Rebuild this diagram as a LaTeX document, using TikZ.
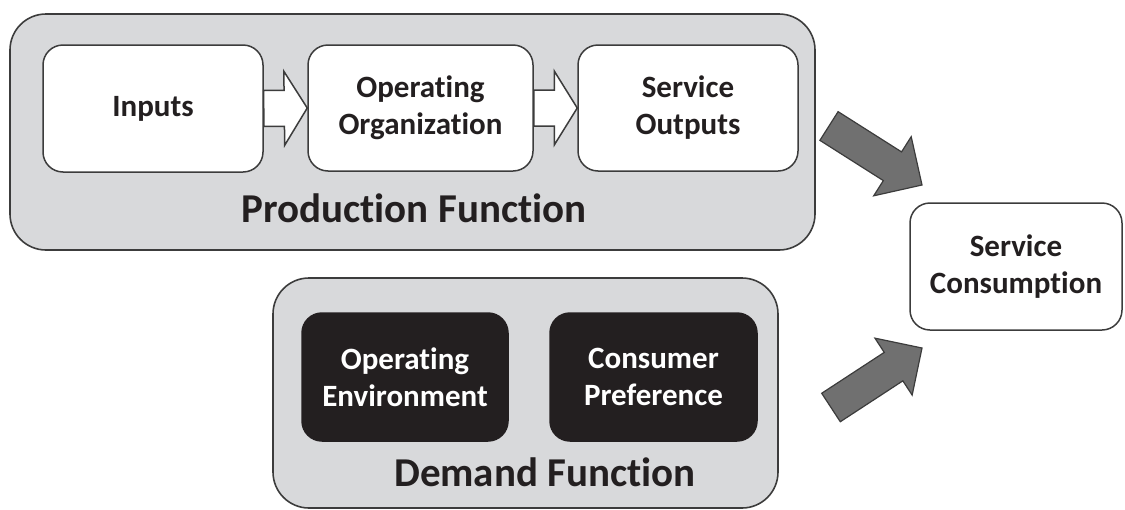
\documentclass[tikz,border=0pt]{standalone}
\usepackage{fontspec}
\setmainfont{Carlito}[RawFeature=-liga]
\usetikzlibrary{calc}

\definecolor{panelfill}{RGB}{216,217,219}
\definecolor{edge}{RGB}{60,60,60}
\definecolor{ink}{RGB}{35,31,32}
\definecolor{arrowgray}{RGB}{112,112,112}

% block arrow: style, tail, tip, half shaft width, half head width, head length
\newcommand\blockarrow[6]{%
  \coordinate (hb) at ($(#3)!#6!(#2)$);
  \draw[#1] ($(#2)!#4!90:(#3)$) -- ($(hb)!#4!90:(#3)$) -- ($(hb)!#5!90:(#3)$)
    -- (#3) -- ($(hb)!#5!-90:(#3)$) -- ($(hb)!#4!-90:(#3)$) -- ($(#2)!#4!-90:(#3)$) -- cycle;
}

\tikzset{
  panel/.style={draw=edge, fill=panelfill, line width=0.8pt, rounded corners=18pt,
    inner sep=0pt},
  whitebox/.style={draw=edge, fill=white, line width=0.75pt, rounded corners=10pt,
    align=center, inner sep=0pt, text=ink,
    font=\fontsize{15.5}{18.5}\selectfont\bfseries},
  darkbox/.style={whitebox, fill=ink, draw=ink, text=white},
  paneltitle/.style={anchor=base, text=ink, inner sep=0pt,
    font=\fontsize{20.5}{24}\selectfont\bfseries},
  hollow/.style={draw=edge, fill=white, line width=0.75pt, line join=miter},
  heavy/.style={draw=edge, fill=arrowgray, line width=0.6pt, line join=miter},
}

\begin{document}
\begin{tikzpicture}[x=0.5pt, y=-0.5pt]
  \useasboundingbox (0,0) rectangle (1125,509);

  % production side
  \node[panel, minimum width=402.5pt, minimum height=118pt] (prod) at (412.5,132) {};
  \node[paneltitle] (prodtitle) at (414,222) {Production Function};

  \node[whitebox, minimum width=110pt, minimum height=63.5pt] (inputs) at (153,108.5) {Inputs};
  \node[whitebox, minimum width=112.5pt, minimum height=63pt] (org) at (420.5,108) {Operating\\Organization};
  \node[whitebox, minimum width=110pt, minimum height=63pt] (outputs) at (688,108) {Service\\Outputs};

  \blockarrow{hollow}{inputs.east}{org.west}{9pt}{18.5pt}{11.5pt}
  \blockarrow{hollow}{org.east}{outputs.west}{9pt}{18.5pt}{11.5pt}

  % demand side
  \node[panel, minimum width=252.5pt, minimum height=115pt] (demand) at (525.5,393) {};
  \node[paneltitle] (demandtitle) at (545,486) {Demand Function};

  \node[darkbox, minimum width=103pt, minimum height=64pt] (env) at (405,377) {Operating\\Environment};
  \node[darkbox, minimum width=103.5pt, minimum height=64pt] (pref) at (653.5,377) {Consumer\\Preference};

  % consumption
  \node[whitebox, minimum width=106pt, minimum height=63.5pt] (cons) at (1016,266.5) {Service\\Consumption};

  \coordinate (ptail) at (829,126);
  \coordinate (ptip) at (922,185);
  \coordinate (dtail) at (831,407.5);
  \coordinate (dtip) at (922,348);
  \blockarrow{heavy}{ptail}{ptip}{8.5pt}{17.5pt}{17.5pt}
  \blockarrow{heavy}{dtail}{dtip}{8.5pt}{17pt}{17pt}
\end{tikzpicture}
\end{document}
